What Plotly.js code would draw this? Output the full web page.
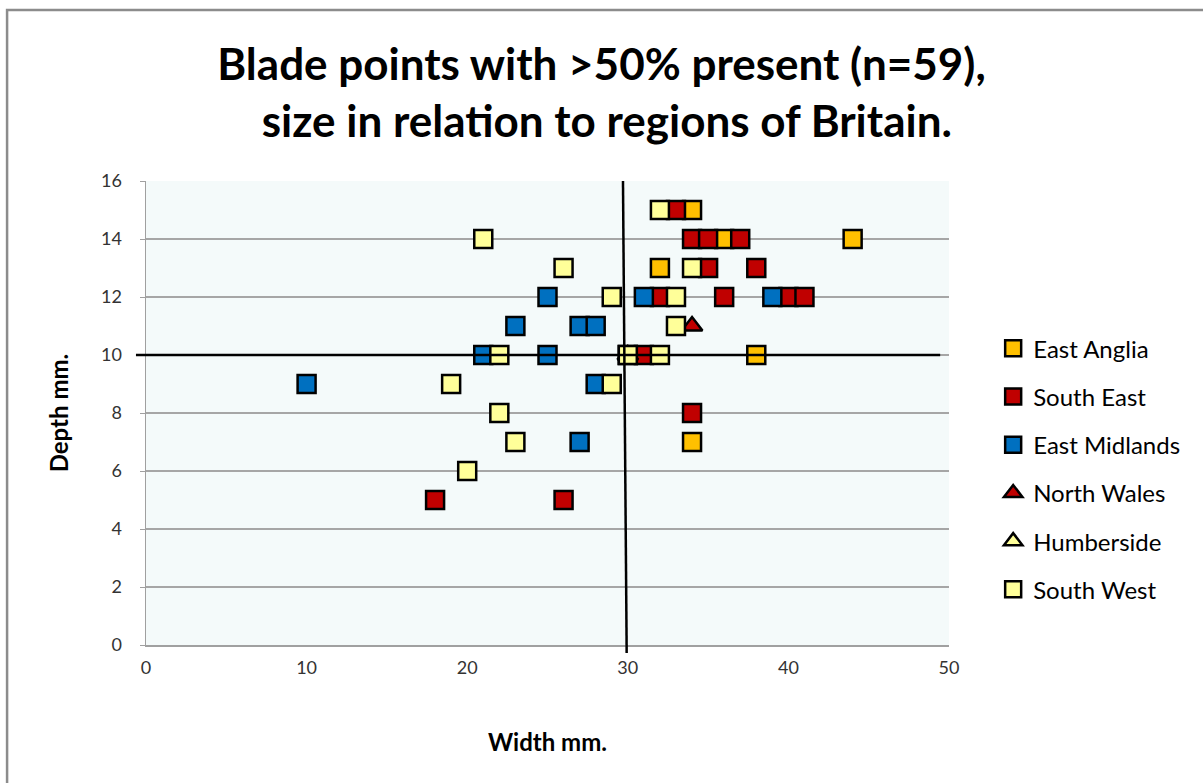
<!DOCTYPE html>
<html>
<head>
<meta charset="utf-8">
<script src="https://cdn.plot.ly/plotly-3.0.1.min.js"></script>
<style>
html,body{margin:0;padding:0;background:#fff;}
#chart{width:1203px;height:783px;}
</style>
</head>
<body>
<div id="chart"></div>
<script>
// Series names
const seriesNames = ["East Anglia", "South East", "East Midlands", "North Wales", "Humberside", "South West"];

// Width (mm) / Depth (mm) values per region
const eastAngliaWidth   = [34, 36, 32, 38, 34, 44];
const eastAngliaDepth   = [15, 14, 13, 10, 7, 14];

const southEastWidth    = [33, 34, 35, 37, 35, 38, 32, 36, 40, 41, 31, 34, 18, 26];
const southEastDepth    = [15, 14, 14, 14, 13, 13, 12, 12, 12, 12, 10, 8, 5, 5];

const eastMidlandsWidth = [31, 39, 25, 23, 27, 28, 21, 25, 28, 10, 27];
const eastMidlandsDepth = [12, 12, 12, 11, 11, 11, 10, 10, 9, 9, 7];

const northWalesWidth   = [34];
const northWalesDepth   = [11];

const humbersideWidth   = [30];
const humbersideDepth   = [10];

const southWestWidth    = [32, 34, 29, 33, 33, 21, 26, 22, 30, 30, 32, 19, 29, 22, 23, 20];
const southWestDepth    = [15, 13, 12, 12, 11, 14, 13, 10, 10, 10, 10, 9, 9, 8, 7, 6];

const xTicks = [0, 10, 20, 30, 40, 50];
const yTicks = [0, 2, 4, 6, 8, 10, 12, 14, 16];

const fontFam = "Lato, 'Open Sans', 'DejaVu Sans', sans-serif";

function series(name, xs, ys, color, symbol, idx) {
  return {
    type: "scatter",
    mode: "markers",
    name: name,
    x: xs,
    y: ys,
    legendgroup: "g" + idx,
    marker: {
      symbol: symbol,
      size: 18,
      color: color,
      line: {color: "#000000", width: 2.5}
    },
    cliponaxis: false,
    hoverinfo: "x+y+name"
  };
}

const data = [
  series(seriesNames[0], eastAngliaWidth, eastAngliaDepth, "#FFC000", "square", 0),
  series(seriesNames[1], southEastWidth, southEastDepth, "#C00000", "square", 1),
  series(seriesNames[2], eastMidlandsWidth, eastMidlandsDepth, "#0070C0", "square", 2),
  series(seriesNames[3], northWalesWidth, northWalesDepth, "#C00000", "triangle-up", 3),
  series(seriesNames[4], humbersideWidth, humbersideDepth, "#FFFF99", "triangle-up", 4),
  series(seriesNames[5], southWestWidth, southWestDepth, "#FFFF99", "square", 5)
];

const layout = {
  width: 1203,
  height: 783,
  margin: {l: 146, r: 254, t: 181, b: 138, pad: 0},
  paper_bgcolor: "#FFFFFF",
  plot_bgcolor: "#F4FAFA",
  font: {family: fontFam, color: "#000000"},
  title: {
    text: "<b>Blade points with >50% present (n=59),<br> size in relation to regions of Britain.</b>",
    font: {family: fontFam, size: 44, color: "#000000"},
    x: 0.5, xref: "container", xanchor: "center",
    y: 0.898, yref: "container", yanchor: "top"
  },
  xaxis: {
    range: [0, 50],
    tickvals: xTicks,
    ticktext: xTicks.map(String),
    showgrid: false,
    zeroline: false,
    showline: true,
    linecolor: "#A0A0A0",
    linewidth: 1.5,
    ticks: "",
    tickfont: {family: fontFam, size: 18, color: "#333333"},
    ticklabelstandoff: 6,
    title: {text: "<b>Width mm.</b>", font: {family: fontFam, size: 24, color: "#000000"}, standoff: 57},
    fixedrange: true
  },
  yaxis: {
    range: [0, 16],
    tickvals: yTicks,
    ticktext: yTicks.map(String),
    showgrid: true,
    gridcolor: "#A6A6A6",
    gridwidth: 1.5,
    zeroline: false,
    showline: true,
    linecolor: "#A0A0A0",
    linewidth: 1.5,
    ticks: "outside",
    ticklen: 5,
    tickcolor: "#A0A0A0",
    tickfont: {family: fontFam, size: 18, color: "#333333"},
    ticklabelstandoff: 14,
    title: {text: "<b>Depth mm.</b>", font: {family: fontFam, size: 24, color: "#000000"}, standoff: 25},
    fixedrange: true
  },
  legend: {
    x: 1.055, xanchor: "left",
    y: 0.687, yanchor: "top",
    font: {family: fontFam, size: 24, color: "#000000"},
    bgcolor: "rgba(0,0,0,0)",
    traceorder: "grouped",
    tracegroupgap: 14,
    itemwidth: 30
  },
  shapes: [
    {type: "line", xref: "paper", yref: "paper", x0: 0.594, y0: 1.0, x1: 0.5986, y1: -0.017,
     line: {color: "#000000", width: 2.5}, layer: "above"},
    {type: "line", xref: "paper", yref: "paper", x0: -0.0125, y0: 0.625, x1: 0.989, y1: 0.625,
     line: {color: "#000000", width: 2.5}, layer: "above"},
    {type: "rect", xref: "paper", yref: "paper", x0: -0.173, y0: 1.3685, x1: 1.33, y1: -0.32,
     line: {color: "#8C8C8C", width: 2.5}, layer: "below"}
  ],
  showlegend: true
};

Plotly.newPlot("chart", data, layout, {displayModeBar: false, staticPlot: true});
</script>
</body>
</html>
